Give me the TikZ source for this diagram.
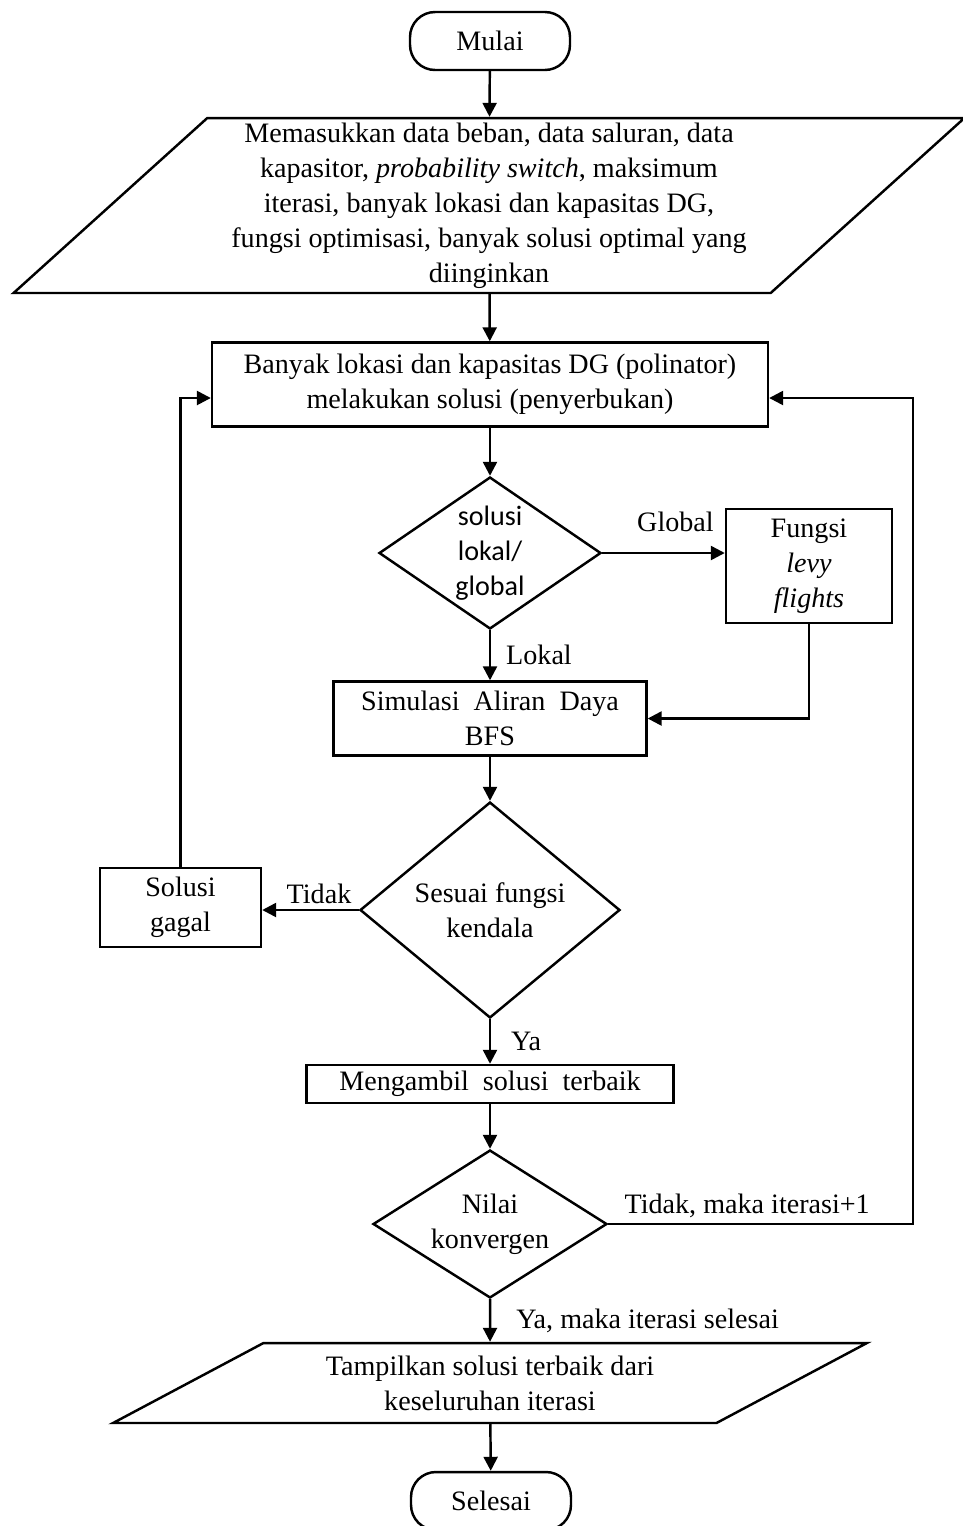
\documentclass[tikz,border=0pt]{standalone}
\usepackage{fontspec}
\setmainfont{Liberation Serif}
\newfontfamily\calibfont{Carlito}
\usetikzlibrary{positioning, arrows.meta, shapes.geometric}

\begin{document}
\begin{tikzpicture}
        [x=0.02cm, y=-0.02cm, line width=1.4pt,
         font=\fontsize{16}{19.9}\selectfont,
         term/.style={draw, rounded corners=0.5cm, minimum width=3.2cm, minimum height=1.16cm},
         proc/.style={draw, align=center, inner sep=0pt},
         dec/.style={draw, diamond, align=center, inner sep=0pt},
         io/.style={draw, trapezium, trapezium stretches body, align=center, inner sep=0pt},
         lbl/.style={inner sep=0.1cm},
         >={Triangle[length=0.28cm, width=0.28cm]}]
        \useasboundingbox (0,0) rectangle (963,1526);

        \node[term] (start) at (490,41) {Mulai};
        \node[io, minimum width=19.02cm, minimum height=3.5cm,
              trapezium left angle=40.5, trapezium right angle=139.5] (input) at (489,205.5)
              {Memasukkan data beban, data saluran, data\\ kapasitor, \textit{probability switch}, maksimum\\
               iterasi, banyak lokasi dan kapasitas DG,\\ fungsi optimisasi, banyak solusi optimal yang\\ diinginkan};
        \node[proc, minimum width=11.12cm, minimum height=1.68cm] (pollin) at (490,384.5)
              {Banyak lokasi dan kapasitas DG (polinator)\\ melakukan solusi (penyerbukan)};
        \node[dec, aspect=1.46, minimum width=4.44cm, minimum height=3.04cm,
              font=\calibfont\fontsize{16}{19.9}\selectfont] (scope) at (490,553) {solusi\\ lokal/\\ global};
        \node[proc, minimum width=3.32cm, minimum height=2.28cm] (levy) at (809,566)
              {Fungsi\\ \textit{levy}\\ \textit{flights}};
        \node[proc, minimum width=6.26cm, minimum height=1.48cm] (bfs) at (490,718.5)
              {Simulasi\ \ Aliran\ \ Daya\\ BFS};
        \node[dec, aspect=1.2, minimum width=5.2cm, minimum height=4.32cm] (check) at (490,910)
              {Sesuai fungsi\\ kendala};
        \node[proc, minimum width=3.22cm, minimum height=1.58cm] (fail) at (180.5,907.5) {Solusi\\ gagal};
        \node[proc, minimum width=7.34cm, minimum height=0.76cm] (best) at (490,1084)
              {Mengambil\ \ solusi\ \ terbaik};
        \node[dec, aspect=1.58, minimum width=4.68cm, minimum height=2.96cm] (conv) at (490,1224)
              {Nilai\\ konvergen};
        \node[io, minimum width=15.08cm, minimum height=1.6cm,
              trapezium left angle=20, trapezium right angle=160] (output) at (490,1383)
              {Tampilkan solusi terbaik dari\\ keseluruhan iterasi};
        \node[term] (stop) at (491,1501) {Selesai};

        \draw[->] (start) -- (input);
        \draw[->] (input) -- (pollin);
        \draw[->] (pollin) -- (scope);
        \draw[->] (scope.east) -- node[lbl, above=0.3cm, xshift=0.24cm] {Global} (scope.east -| levy.west);
        \draw[->] (scope) -- node[lbl, right=0.2cm] {Lokal} (bfs);
        \draw[->] (levy) |- (bfs);
        \draw[->] (bfs) -- (check);
        \draw[->] (check.west) -- node[lbl, above, xshift=0.17cm] {Tidak} (check.west -| fail.east);
        \draw[->] (fail) |- ([yshift=-0.27cm]pollin.west);
        \draw[->] (check) -- node[lbl, right=0.3cm] {Ya} (best);
        \draw[->] (best) -- (conv);
        \draw[->] (conv.east) -- node[lbl, above, xshift=-0.27cm] {Tidak, maka iterasi+1} ++(305,0)
                  |- ([yshift=-0.27cm]pollin.east);
        \draw[->] (conv) -- node[lbl, right=0.4cm] {Ya, maka iterasi selesai} (output);
        \draw[->] (output) -- (stop);
    \end{tikzpicture}
\end{document}
